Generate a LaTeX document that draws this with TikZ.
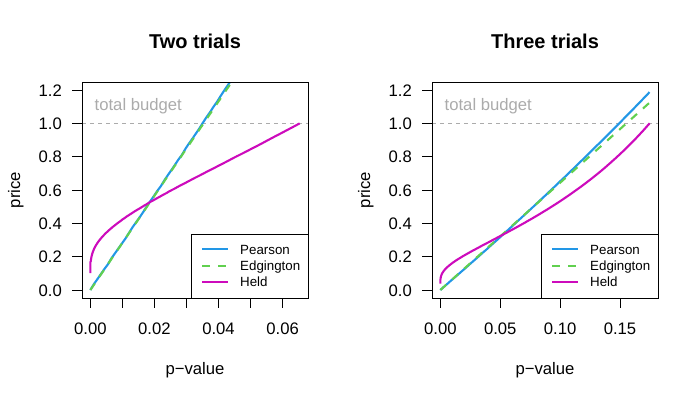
\documentclass[tikz,border=0pt]{standalone}
\usepackage{fontspec}
\setmainfont{Liberation Sans}
\definecolor{pearson}{HTML}{2297E6}
\definecolor{edg}{HTML}{61D04F}
\definecolor{held}{HTML}{CD0BBC}
\definecolor{budget}{HTML}{ABABAB}
\begin{document}
\begin{tikzpicture}[x=1pt,y=1pt,
  declare function={zz(\t)=\t-(2.515517+0.802853*\t+0.010328*\t*\t)/(1+1.432788*\t+0.189269*\t*\t+0.001308*\t*\t*\t);},
  curve/.style={line width=2.1pt, line join=round},
  pcurve/.style={curve, draw=pearson},
  ecurve/.style={curve, draw=edg, dash pattern=on 8pt off 8pt},
  hcurve/.style={curve, draw=held},
  frame/.style={line width=1pt, draw=black},
  tickmark/.style={line width=1pt, draw=black},
  budgetline/.style={line width=1pt, draw=budget, dash pattern=on 4pt off 4pt},
  ticklab/.style={inner sep=0pt, font=\fontsize{16.67}{20}\selectfont},
  axlab/.style={inner sep=0pt, font=\fontsize{16.67}{20}\selectfont},
  budgetlab/.style={inner sep=0pt, text=budget, font=\fontsize{16.67}{20}\selectfont},
  titlelab/.style={inner sep=0pt, font=\fontsize{20}{24}\selectfont\bfseries},
  legbox/.style={line width=1pt, draw=black, fill=white},
  leglab/.style={inner sep=0pt, anchor=base west, font=\fontsize{13.33}{16}\selectfont}
]
\useasboundingbox (0,0) rectangle (700,400);

% ================= LEFT PANEL =================
\draw[budgetline] (82,276.67) -- (308,276.67);
\begin{scope}
  \clip (82,102) rectangle (308,318);
  \begin{scope}[shift={(90.37pt,110pt)}, x=3203.9pt, y=166.667pt]
    \draw[pcurve] plot[domain=0:0.065313, samples=60] (\x, {-ln(1-\x)/0.03578});
    \draw[ecurve] (0,0) -- (0.065313,1.84735);
    \draw[hcurve] plot[variable=\t, domain=2.33605:5.25652, samples=220]
      ({exp(-\t*\t/2)}, {2.28505/(zz(\t)*zz(\t))});
  \end{scope}
\end{scope}
\draw[frame] (82,102) rectangle (308,318);
\foreach \v/\l in {0/0.0,1/0.2,2/0.4,3/0.6,4/0.8,5/1.0,6/1.2}{
  \draw[tickmark] (72,{110+33.3333*\v}) -- (82,{110+33.3333*\v});
  \node[ticklab, anchor=base east] (ylabL\v) at (62,{104+33.3333*\v}) {\l};
}
\foreach \i in {0,...,6}{
  \draw[tickmark] ({90.37+32.039*\i},102) -- ({90.37+32.039*\i},92);
}
\foreach \i/\l in {0/0.00,2/0.02,4/0.04,6/0.06}{
  \node[ticklab, anchor=base] (xlabL\i) at ({90.37+32.039*\i},66) {\l};
}
\node[budgetlab, anchor=base west] (budL) at (94.5,289.3) {total budget};
\node[axlab, anchor=base] (xtitL) at (195,26) {p−value};
\node[axlab, anchor=base, rotate=90] (ytitL) at (20,210) {price};
\node[titlelab, anchor=base] (titL) at (195,351.7) {Two trials};
\draw[legbox] (191,102) rectangle (308,165.7);
\draw[pcurve] (202.3,150.7) -- (228.3,150.7);
\draw[ecurve] (202.3,134) -- (228.3,134);
\draw[hcurve] (202.3,118.3) -- (228.3,118.3);
\node[leglab] (lpL) at (240,145.9) {Pearson};
\node[leglab] (leL) at (240,129.2) {Edgington};
\node[leglab] (lhL) at (240,113.5) {Held};

% ================= RIGHT PANEL =================
\draw[budgetline] (432,276.67) -- (658,276.67);
\begin{scope}
  \clip (432,102) rectangle (658,318);
  \begin{scope}[shift={(440.37pt,110pt)}, x=1197.65pt, y=166.667pt]
    \draw[pcurve] plot[domain=0:0.174725, samples=60] (\x, {-ln(1-\x)/0.16175});
    \draw[ecurve] (0,0) -- (0.174725,1.12463);
    \draw[hcurve] plot[variable=\t, domain=1.867909:5.25652, samples=220]
      ({exp(-\t*\t/2)}, {0.875489/(zz(\t)*zz(\t))});
  \end{scope}
\end{scope}
\draw[frame] (432,102) rectangle (658,318);
\foreach \v/\l in {0/0.0,1/0.2,2/0.4,3/0.6,4/0.8,5/1.0,6/1.2}{
  \draw[tickmark] (422,{110+33.3333*\v}) -- (432,{110+33.3333*\v});
  \node[ticklab, anchor=base east] (ylabR\v) at (412,{104+33.3333*\v}) {\l};
}
\foreach \i/\l in {0/0.00,1/0.05,2/0.10,3/0.15}{
  \draw[tickmark] ({440.37+59.8825*\i},102) -- ({440.37+59.8825*\i},92);
  \node[ticklab, anchor=base] (xlabR\i) at ({440.37+59.8825*\i},66) {\l};
}
\node[budgetlab, anchor=base west] (budR) at (444.5,289.3) {total budget};
\node[axlab, anchor=base] (xtitR) at (545,26) {p−value};
\node[axlab, anchor=base, rotate=90] (ytitR) at (370,210) {price};
\node[titlelab, anchor=base] (titR) at (545,351.7) {Three trials};
\draw[legbox] (541,102) rectangle (658,165.7);
\draw[pcurve] (552.3,150.7) -- (578.3,150.7);
\draw[ecurve] (552.3,134) -- (578.3,134);
\draw[hcurve] (552.3,118.3) -- (578.3,118.3);
\node[leglab] (lpR) at (590,145.9) {Pearson};
\node[leglab] (leR) at (590,129.2) {Edgington};
\node[leglab] (lhR) at (590,113.5) {Held};
\end{tikzpicture}
\end{document}
